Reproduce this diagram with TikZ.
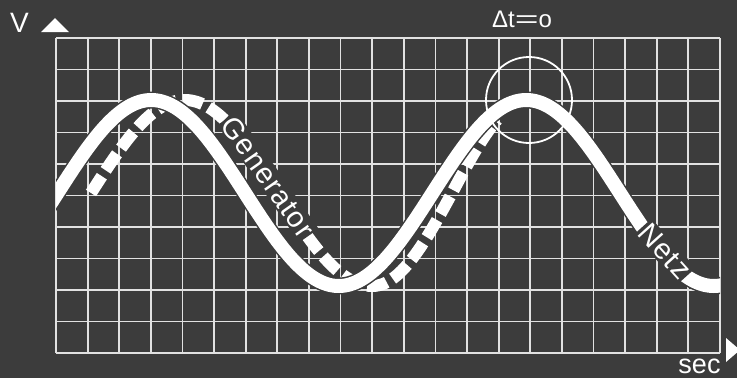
\documentclass[tikz,border=0pt]{standalone}
\usepackage{fontspec}
\setmainfont{Liberation Sans}
\definecolor{bg}{HTML}{3C3C3C}
\definecolor{gridc}{HTML}{E2E2E2}
\begin{document}
\begin{tikzpicture}[x=1pt,y=-1pt,
  gridline/.style={gridc, line width=1.8pt, line cap=square},
  solidwave/.style={white, line width=14pt},
  casing/.style={bg, line width=17pt},
  dashwave/.style={white, line width=12pt, dash pattern=on 20pt off 7pt},
  curvelabel/.style={white, fill=bg, inner sep=1.5pt, font=\fontsize{29}{29}\selectfont\addfontfeature{LetterSpace=4}},
  axislabel/.style={white, inner sep=0pt},
  ring/.style={circle, draw=white, line width=1.8pt, minimum size=86pt, inner sep=0pt},
]
\fill[bg] (0,0) rectangle (737,378);
\useasboundingbox (0,0) rectangle (737,378);
% grid
\foreach \i in {0,...,21} \draw[gridline] ({56+\i*31.619},38) -- ({56+\i*31.619},353);
\foreach \j in {0,...,10} \draw[gridline] (56,{38+\j*31.5}) -- (720,{38+\j*31.5});
% dashed generator curve
\draw[dashwave] plot[domain=0:412, samples=220, variable=\t]
  ({58+1.0416667*\t+33-14*min(max((\t-270)/90,0),1)-9*max((\t-360)/52,0)}, {193-93*sin(\t)});
\node[curvelabel, rotate=-55] (gen) at (268,177) {Generator};
% solid net curve
\begin{scope}
\clip (56,0) rectangle (720,378);
\draw[casing] plot[domain=-10:640, samples=260, variable=\t] ({57.5+1.0416667*\t}, {193-93*sin(\t)});
\draw[solidwave] plot[domain=-10:640, samples=260, variable=\t] ({57.5+1.0416667*\t}, {193-93*sin(\t)});
\end{scope}
\node[curvelabel, rotate=-48] (netz) at (665,251) {Netz};
% circle
\node[ring] (zoomring) at (529,100) {};
% labels
\node[axislabel, font=\fontsize{28}{28}\selectfont, anchor=base] (vlabel) at (19.5,32) {V};
\node[axislabel, font=\fontsize{27}{27}\selectfont, anchor=base] (seclabel) at (699.5,373) {sec};
\node[axislabel, font=\fontsize{24}{24}\selectfont, anchor=base] (dt) at (522,27) {Δt\scalebox{1.7}[1]{=}o};
\fill[white] (41,32) -- (69,32) -- (55,18) -- cycle;
\fill[white] (726,338) -- (726,362) -- (740,350) -- cycle;
\end{tikzpicture}
\end{document}
